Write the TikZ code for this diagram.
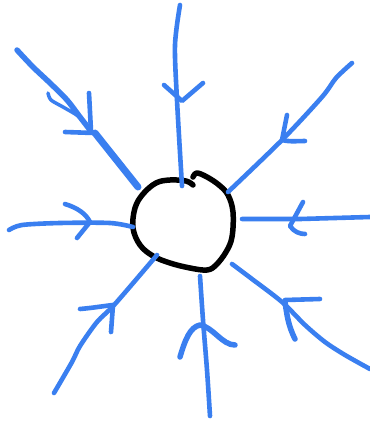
\documentclass[tikz,border=0pt]{standalone}
\definecolor{penblue}{RGB}{58,127,240}
\tikzset{
  bluestroke/.style={draw=penblue, line width=4.6pt, line cap=round, line join=round},
  ringstroke/.style={draw=black, line width=5.5pt, line cap=round, line join=round},
}
\begin{document}
\begin{tikzpicture}[x=1pt,y=-1pt]
\path[use as bounding box, fill=white] (0,0) rectangle (370,424);
% ring
\draw[ringstroke] plot[smooth, tension=0.6] coordinates {(193,185) (186,181) (170,180) (156,183) (143,194) (135,208) (133,228) (140,245) (153,256) (170,263) (190,268) (207,270) (216,265) (226,252) (232,237) (233,212) (228,195) (219,185) (207,177) (197,173) (193,177)};
% top
\draw[bluestroke] plot[smooth] coordinates {(180,5) (175,45) (177,100) (182,186)};
\draw[bluestroke] (164,85) -- (182,101) -- (203,83);
% top-left
\draw[bluestroke, line width=5.5pt] plot[smooth] coordinates {(17,50) (33,67) (50,83) (67,100) (80,117) (90,130)};
\draw[bluestroke, line width=7pt] (95,133) -- (138,187);
\draw[bluestroke, line width=3.5pt] plot[smooth] coordinates {(48,93) (51,100) (63,107) (78,116) (90,128)};
\draw[bluestroke] (89,93) -- (91,131);
\draw[bluestroke] (65,132) -- (94,133);
% top-right
\draw[bluestroke] plot[smooth] coordinates {(352,63) (336,78) (322,97) (282,140) (228,192)};
\draw[bluestroke] (287,115) -- (282,140) .. controls (290,142) and (298,141) .. (305,141);
% left
\draw[bluestroke] plot[smooth] coordinates {(9,230) (22,225) (60,223) (110,223) (133,227)};
\draw[bluestroke] (65,204) .. controls (78,208) and (86,214) .. (90,222) -- (77,238);
% right
\draw[bluestroke] (242,219) -- (300,219) -- (370,217);
\draw[bluestroke] (303,202) -- (290,226) .. controls (294,232) and (300,234) .. (305,234);
% bottom-left
\draw[bluestroke] plot[smooth] coordinates {(54,393) (72,362) (80,346) (97,322) (115,304) (157,255)};
\draw[bluestroke] (80,309) .. controls (92,308) and (104,306) .. (113,305) -- (111,332);
% bottom
\draw[bluestroke] plot[smooth] coordinates {(210,416) (207,370) (203,320) (200,276)};
\draw[bluestroke, line width=5.5pt] (180,357) .. controls (185,340) and (190,327) .. (200,325) .. controls (213,327) and (222,345) .. (235,345);
% bottom-right
\draw[bluestroke] plot[smooth] coordinates {(232,264) (252,279) (282,302) (305,325) (325,342) (345,355) (370,369)};
\draw[bluestroke] (285,300) -- (320,299);
\draw[bluestroke, line width=5.5pt] (285,302) .. controls (287,315) and (288,325) .. (295,339);
\end{tikzpicture}
\end{document}
